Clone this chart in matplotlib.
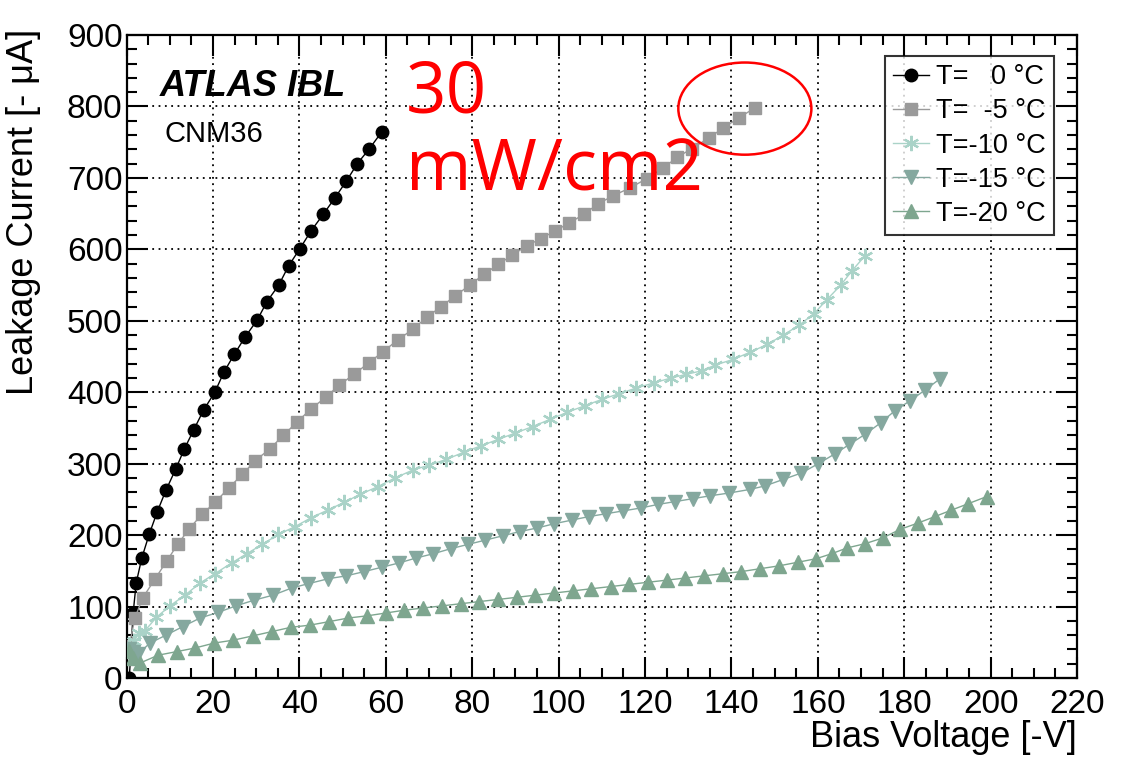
import matplotlib
matplotlib.use("Agg")
import matplotlib.pyplot as plt
from matplotlib.patches import Ellipse
from matplotlib.ticker import MultipleLocator

# ---- data ----
v_0 = [0.6, 1.5, 2.2, 3.5, 5.2, 7.1, 9.1, 11.4, 13.3, 15.5, 17.8, 20.4, 22.5, 24.9,
       27.5, 30.2, 32.5, 35.2, 37.5, 40.1, 42.7, 45.5, 48.2, 50.8, 53.4, 56.2, 59.0]
i_0 = [0, 91, 133, 168, 201, 233, 263, 293, 320, 347, 375, 400, 428, 453,
       478, 501, 527, 550, 577, 601, 626, 649, 672, 695, 720, 741, 764]

v_m5 = [0.6, 1.9, 3.7, 6.6, 9.3, 11.9, 14.5, 17.4, 20.5, 23.6, 26.8, 29.7, 33.2, 36.3,
        39.4, 42.7, 46.1, 49.2, 52.6, 56.0, 59.4, 62.7, 66.2, 69.5, 72.8, 76.1, 79.4,
        82.7, 86.0, 89.3, 92.6, 95.9, 99.2, 102.5, 105.8, 109.2, 112.6, 116.5, 120.4,
        124.2, 127.5, 130.8, 134.8, 138.1, 141.7, 145.4]
i_m5 = [45, 84, 112, 139, 164, 188, 209, 229, 246, 266, 285, 304, 321, 340,
        358, 377, 393, 410, 425, 441, 457, 473, 488, 505, 520, 535, 550,
        565, 579, 592, 605, 615, 626, 637, 649, 664, 675, 686, 699,
        714, 729, 741, 756, 770, 784, 798]

v_m10 = [0.6, 1.8, 2.9, 4.2, 6.9, 10.0, 13.5, 17.0, 20.4, 24.3, 27.8, 31.4, 35.1, 39.0,
         42.6, 46.5, 50.4, 54.0, 58.2, 62.1, 66.2, 70.0, 74.0, 78.0, 82.0, 86.0, 90.0,
         94.0, 98.0, 102.0, 106.0, 110.0, 114.0, 118.0, 122.0, 126.0, 129.5, 133.1,
         136.2, 140.4, 144.3, 148.3, 152.0, 155.7, 159.1, 162.0, 165.3, 167.9, 170.9]
i_m10 = [44, 52, 63, 66, 85, 101, 116, 133, 146, 161, 174, 187, 201, 212,
         224, 235, 246, 257, 268, 280, 291, 298, 306, 316, 325, 334, 343,
         352, 362, 372, 381, 390, 398, 406, 413, 420, 425, 430,
         438, 446, 456, 467, 480, 494, 510, 529, 550, 570, 591]

v_m15 = [0.6, 1.5, 2.7, 5.4, 9.1, 13.0, 17.0, 21.2, 25.3, 29.5, 33.9, 38.2, 42.0, 46.7,
         50.8, 55.0, 59.0, 63.0, 67.0, 71.0, 75.0, 79.0, 83.0, 87.0, 91.0, 95.0, 99.0,
         103.0, 107.0, 111.0, 115.0, 119.0, 123.0, 127.0, 131.0, 135.0, 139.5, 144.3,
         147.8, 152.0, 156.2, 160.1, 164.0, 167.3, 170.9, 174.5, 177.8, 181.3, 184.8, 188.3]
i_m15 = [40, 36, 34, 49, 60, 72, 84, 92, 101, 109, 116, 126, 132, 139,
         143, 149, 155, 161, 168, 174, 181, 187, 193, 199, 205, 210, 216,
         221, 226, 230, 234, 238, 243, 247, 251, 255, 259, 264,
         269, 278, 287, 300, 314, 327, 341, 357, 374, 388, 403, 419]

v_m20 = [0.6, 1.5, 3.1, 7.3, 11.6, 15.8, 20.3, 24.7, 29.2, 33.6, 38.0, 42.4, 46.9, 51.3,
         55.6, 60.0, 64.3, 68.6, 73.0, 77.3, 81.6, 86.0, 90.3, 94.6, 99.0, 103.3, 107.6,
         112.0, 116.3, 120.6, 125.0, 129.3, 133.6, 138.0, 142.3, 146.6, 151.0, 155.3,
         159.6, 163.2, 166.7, 170.9, 175.0, 179.0, 183.2, 187.1, 190.9, 194.8, 199.1]
i_m20 = [38, 28, 21, 32, 37, 42, 49, 53, 59, 65, 71, 74, 79, 84,
         87, 91, 95, 98, 101, 104, 107, 110, 113, 116, 119, 122, 125,
         128, 131, 134, 137, 140, 143, 146, 149, 153, 157, 162,
         167, 174, 182, 188, 196, 208, 217, 226, 235, 244, 254]

labels = ["T=   0 \u00b0C", "T=  -5 \u00b0C", "T=-10 \u00b0C", "T=-15 \u00b0C", "T=-20 \u00b0C"]

plt.rcParams['font.family'] = ['Liberation Sans', 'DejaVu Sans']

fig = plt.figure(figsize=(11.21, 7.58), dpi=100)
ax = fig.add_axes([0.113, 0.1055, 0.8478, 0.8483])

series = [
    (v_0, i_0, dict(color='black', marker='o', ms=9)),
    (v_m5, i_m5, dict(color='#9a9a9a', marker='s', ms=8.5)),
    (v_m10, i_m10, dict(color='#aad3c8', marker=(6, 2, 0), ms=11, mew=1.6)),
    (v_m15, i_m15, dict(color='#85a89f', marker='v', ms=10)),
    (v_m20, i_m20, dict(color='#7ea68f', marker='^', ms=9.5)),
]
for (vx, iy, st), lab in zip(series, labels):
    ax.plot(vx, iy, lw=1.0, label=lab, zorder=3, **st)

ax.set_xlim(0, 220)
ax.set_ylim(0, 900)
ax.xaxis.set_major_locator(MultipleLocator(20))
ax.xaxis.set_minor_locator(MultipleLocator(5))
ax.yaxis.set_major_locator(MultipleLocator(100))
ax.yaxis.set_minor_locator(MultipleLocator(20))
ax.tick_params(which='both', direction='in', top=True, right=True, width=1.5)
ax.tick_params(which='major', length=15, labelsize=24)
ax.tick_params(which='minor', length=7.5)
ax.tick_params(axis='y', pad=3)
ax.tick_params(axis='x', pad=8)
ax.grid(True, which='major', color='black', linestyle=(0, (1, 2.5)), lw=1.3)
for s in ax.spines.values():
    s.set_linewidth(1.6)

ax.set_xlabel("Bias Voltage [-V]", loc='right', fontsize=26)
ax.xaxis.set_label_coords(1.0, -0.066)
ax.set_ylabel("Leakage Current [- \u03bcA]", loc='top', fontsize=26)
ax.yaxis.set_label_coords(-0.09, 1.01)

ax.text(0.035, 0.905, "ATLAS IBL", transform=ax.transAxes, fontsize=26,
        fontweight='bold', fontstyle='italic', va='baseline')
ax.text(0.040, 0.833, "CNM36", transform=ax.transAxes, fontsize=21, va='baseline')

leg = ax.legend(loc='upper right', bbox_to_anchor=(0.9758, 0.967), borderaxespad=0,
                fontsize=19.5, frameon=True, fancybox=False, handlelength=1.35,
                labelspacing=0.3, handletextpad=0.25, borderpad=0.3)
leg.get_frame().set_edgecolor('black')
leg.get_frame().set_linewidth(1.5)

ell = Ellipse((143.1, 797), 30.8, 129, fill=False, edgecolor='red', lw=1.8, zorder=5)
ax.add_patch(ell)

fig.text(0.362, 0.851, "30", color='red', fontsize=51, family='Open Sans', va='baseline')
fig.text(0.362, 0.749, "mW/cm2", color='red', fontsize=51, family='Open Sans', va='baseline')

fig.savefig("out.png", dpi=100)
